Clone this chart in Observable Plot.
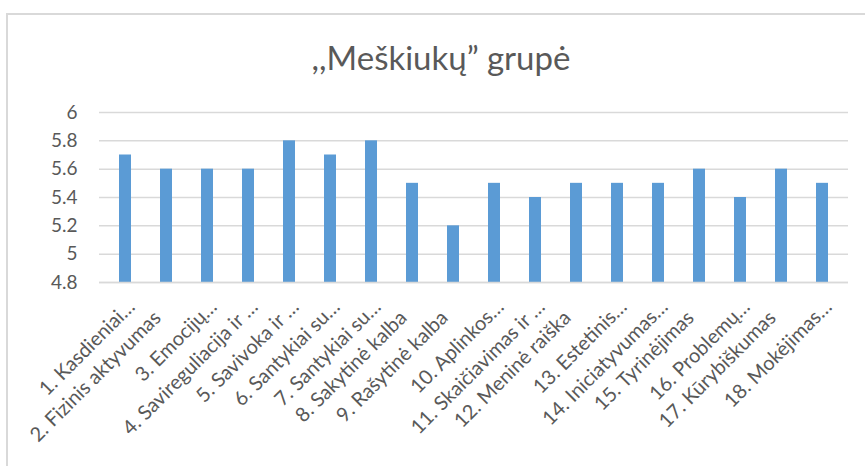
<!DOCTYPE html>
<html><head><meta charset="utf-8">
<script src="https://cdn.jsdelivr.net/npm/d3@7"></script>
<script src="https://cdn.jsdelivr.net/npm/@observablehq/plot@0.6"></script>
<style>
body{margin:0;background:#fff;}
#wrap{position:relative;width:865px;height:466px;overflow:hidden;font-family:Lato,sans-serif;background:#fff;}
#borderTop{position:absolute;left:6px;top:13px;right:0;height:2px;background:#d9d9d9;}
#borderLeft{position:absolute;left:6px;top:13px;bottom:0;width:2px;background:#d9d9d9;}
#title{position:absolute;left:0;width:882px;top:37px;text-align:center;font-size:33px;line-height:40px;color:#595959;}
#chart{position:absolute;left:0;top:0;}
</style></head>
<body><div id="wrap"><div id="borderTop"></div><div id="borderLeft"></div><div id="chart"></div><div id="title">,,Meškiukų” grupė</div></div>
<script>
const labels = [
  "1. Kasdieniai…",
  "2. Fizinis aktyvumas",
  "3. Emocijų…",
  "4. Savireguliacija ir …",
  "5. Savivoka ir …",
  "6. Santykiai su…",
  "7. Santykiai su…",
  "8. Sakytinė kalba",
  "9. Rašytinė kalba",
  "10. Aplinkos…",
  "11. Skaičiavimas ir …",
  "12. Meninė raiška",
  "13. Estetinis…",
  "14. Iniciatyvumas…",
  "15. Tyrinėjimas",
  "16. Problemų…",
  "17. Kūrybiškumas",
  "18. Mokėjimas…"
];
const values = [5.7, 5.6, 5.6, 5.6, 5.8, 5.7, 5.8, 5.5, 5.2, 5.5, 5.4, 5.5, 5.5, 5.5, 5.6, 5.4, 5.6, 5.5];
const yTicks = [4.8, 5, 5.2, 5.4, 5.6, 5.8, 6];

const data = labels.map((l, i) => ({i, label: l, value: values[i]}));
const idx = d3.range(labels.length);
const truncated = idx.filter(i => labels[i].endsWith("…"));
const full = idx.filter(i => !labels[i].endsWith("…"));

const xAxisOpts = {tickSize: 0, tickPadding: 6, tickRotate: -45, tickFormat: i => labels[i], fontSize: 20, fill: "#595959", label: null};

const plot = Plot.plot({
  width: 865,
  height: 466,
  marginTop: 112,
  marginBottom: 184,
  marginLeft: 99,
  marginRight: 17,
  style: {fontFamily: "Lato, sans-serif", color: "#595959", background: "transparent", overflow: "visible"},
  x: {domain: idx, paddingInner: 0.71, paddingOuter: 0.355, label: null},
  y: {domain: [4.8, 6], label: null},
  marks: [
    Plot.gridY(yTicks, {stroke: "#d9d9d9", strokeOpacity: 1, strokeWidth: 1.5}),
    Plot.barY(data, {x: "i", y1: 4.8, y2: "value", fill: "#5b9bd5"}),
    Plot.ruleY([4.8], {stroke: "#d9d9d9", strokeWidth: 1.5}),
    Plot.axisY(yTicks, {tickSize: 0, tickPadding: 22, tickFormat: d => String(+d.toFixed(1)), fontSize: 19, fill: "#595959", label: null}),
    Plot.axisX(truncated, {...xAxisOpts, dx: 6, dy: 15}),
    Plot.axisX(full, {...xAxisOpts, dx: -9, dy: 26})
  ]
});
document.getElementById("chart").appendChild(plot);
</script>
</body></html>
